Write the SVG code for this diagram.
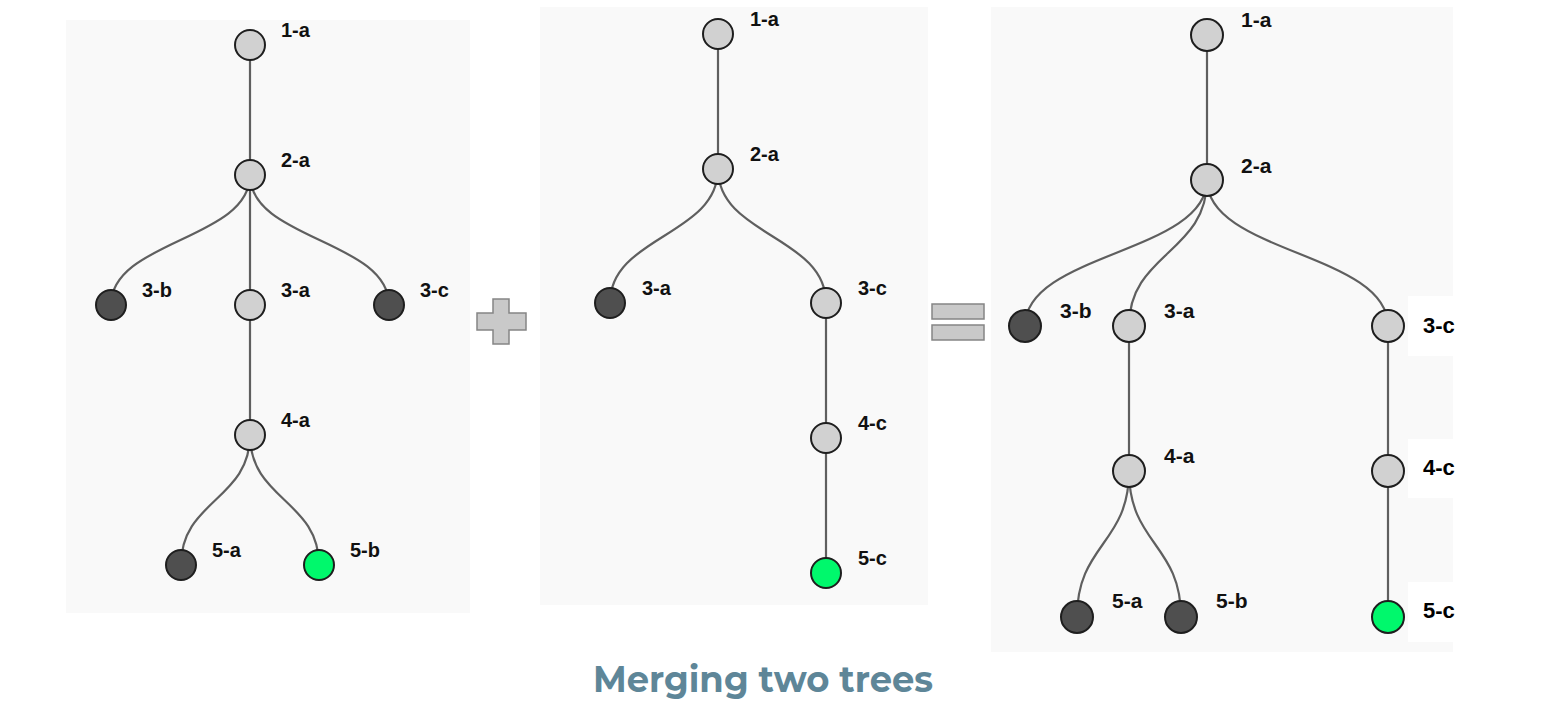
<svg xmlns="http://www.w3.org/2000/svg" width="1542" height="727" viewBox="0 0 1542 727">
<style>
.panel{fill:#f9f9f9}
.edge{fill:none;stroke:#5f5f5f;stroke-width:2.2}
.n{stroke:#1e1e1e;stroke-width:2}
.light{fill:#d1d1d1}
.dark{fill:#4f4f4f}
.green{fill:#00f86c}
.lbl{font-family:"Liberation Sans",Arial,sans-serif;font-weight:bold;font-size:20px;fill:#111}
.lbl2{font-family:"Liberation Sans",Arial,sans-serif;font-weight:bold;font-size:21px;fill:#111}
.lblb{font-family:"Liberation Sans",Arial,sans-serif;font-weight:bold;font-size:22px;fill:#000}
.op{fill:#c9c9c9;stroke:#858585;stroke-width:1.5}
.title{font-family:Montserrat,"Open Sans",sans-serif;font-weight:bold;font-size:36px;fill:#5e8698}
</style>
<rect width="1542" height="727" fill="#ffffff"/>
<g id="panels">
<rect class="panel" x="66" y="20" width="404" height="593"/>
<rect class="panel" x="540" y="7" width="388" height="598"/>
<rect class="panel" x="991" y="7" width="462" height="645"/>
<rect x="1408" y="296" width="60" height="60" fill="#ffffff"/>
<rect x="1408" y="439" width="60" height="59" fill="#ffffff"/>
<rect x="1408" y="582" width="60" height="60" fill="#ffffff"/>
</g>
<g id="connectors">
<path class="edge" d="M250,45 L250,175"/>
<path class="edge" d="M250,175 C250,240 111,240 111,305"/>
<path class="edge" d="M250,175 L250,305"/>
<path class="edge" d="M250,175 C250,240 389,240 389,305"/>
<path class="edge" d="M250,305 L250,435"/>
<path class="edge" d="M250,435 C250,500 181,500 181,565"/>
<path class="edge" d="M250,435 C250,500 319,500 319,565"/>
<path class="edge" d="M718,34 L718,169"/>
<path class="edge" d="M718,169 C718,236 610,236 610,303"/>
<path class="edge" d="M718,169 C718,236 826,236 826,303"/>
<path class="edge" d="M826,303 L826,573"/>
<path class="edge" d="M1207,35 L1207,180"/>
<path class="edge" d="M1207,180 C1207,253 1025,253 1025,326"/>
<path class="edge" d="M1207,180 C1207,253 1129,253 1129,326"/>
<path class="edge" d="M1207,180 C1207,253 1388,253 1388,326"/>
<path class="edge" d="M1129,326 L1129,471"/>
<path class="edge" d="M1129,471 C1129,544 1077,544 1077,617"/>
<path class="edge" d="M1129,471 C1129,544 1181,544 1181,617"/>
<path class="edge" d="M1388,326 L1388,617"/>
</g>
<g id="L-1a"><circle class="n light" cx="250" cy="45" r="15"/><text class="lbl" x="281" y="37">1-a</text></g>
<g id="L-2a"><circle class="n light" cx="250" cy="175" r="15"/><text class="lbl" x="281" y="167">2-a</text></g>
<g id="L-3b"><circle class="n dark" cx="111" cy="305" r="15"/><text class="lbl" x="142" y="297">3-b</text></g>
<g id="L-3a"><circle class="n light" cx="250" cy="305" r="15"/><text class="lbl" x="281" y="297">3-a</text></g>
<g id="L-3c"><circle class="n dark" cx="389" cy="305" r="15"/><text class="lbl" x="420" y="297">3-c</text></g>
<g id="L-4a"><circle class="n light" cx="250" cy="435" r="15"/><text class="lbl" x="281" y="427">4-a</text></g>
<g id="L-5a"><circle class="n dark" cx="181" cy="565" r="15"/><text class="lbl" x="212" y="557">5-a</text></g>
<g id="L-5b"><circle class="n green" cx="319" cy="565" r="15"/><text class="lbl" x="350" y="557">5-b</text></g>
<g id="plus"><path class="op" d="M493,299 H509 V313 H526 V330 H509 V344 H493 V330 H477 V313 H493 Z"/></g>
<g id="M-1a"><circle class="n light" cx="718" cy="34" r="15"/><text class="lbl" x="750" y="26">1-a</text></g>
<g id="M-2a"><circle class="n light" cx="718" cy="169" r="15"/><text class="lbl" x="750" y="161">2-a</text></g>
<g id="M-3a"><circle class="n dark" cx="610" cy="303" r="15"/><text class="lbl" x="642" y="295">3-a</text></g>
<g id="M-3c"><circle class="n light" cx="826" cy="303" r="15"/><text class="lbl" x="858" y="295">3-c</text></g>
<g id="M-4c"><circle class="n light" cx="826" cy="438" r="15"/><text class="lbl" x="858" y="430">4-c</text></g>
<g id="M-5c"><circle class="n green" cx="826" cy="573" r="15"/><text class="lbl" x="858" y="565">5-c</text></g>
<g id="equals">
<rect class="op" x="932" y="304" width="52" height="15"/>
<rect class="op" x="932" y="325" width="52" height="15"/>
</g>
<g id="R-1a"><circle class="n light" cx="1207" cy="35" r="16"/><text class="lbl2" x="1241" y="27">1-a</text></g>
<g id="R-2a"><circle class="n light" cx="1207" cy="180" r="16"/><text class="lbl2" x="1241" y="173">2-a</text></g>
<g id="R-3b"><circle class="n dark" cx="1025" cy="326" r="16"/><text class="lbl2" x="1060" y="318">3-b</text></g>
<g id="R-3a"><circle class="n light" cx="1129" cy="326" r="16"/><text class="lbl2" x="1164" y="318">3-a</text></g>
<g id="R-3c"><circle class="n light" cx="1388" cy="326" r="16"/><text class="lblb" x="1423" y="333">3-c</text></g>
<g id="R-4a"><circle class="n light" cx="1129" cy="471" r="16"/><text class="lbl2" x="1164" y="463">4-a</text></g>
<g id="R-4c"><circle class="n light" cx="1388" cy="471" r="16"/><text class="lblb" x="1423" y="475">4-c</text></g>
<g id="R-5a"><circle class="n dark" cx="1077" cy="617" r="16"/><text class="lbl2" x="1112" y="608">5-a</text></g>
<g id="R-5b"><circle class="n dark" cx="1181" cy="617" r="16"/><text class="lbl2" x="1216" y="608">5-b</text></g>
<g id="R-5c"><circle class="n green" cx="1388" cy="617" r="16"/><text class="lblb" x="1423" y="618">5-c</text></g>
<text class="title" x="763" y="692" text-anchor="middle" textLength="340" lengthAdjust="spacingAndGlyphs">Merging two trees</text>
</svg>
